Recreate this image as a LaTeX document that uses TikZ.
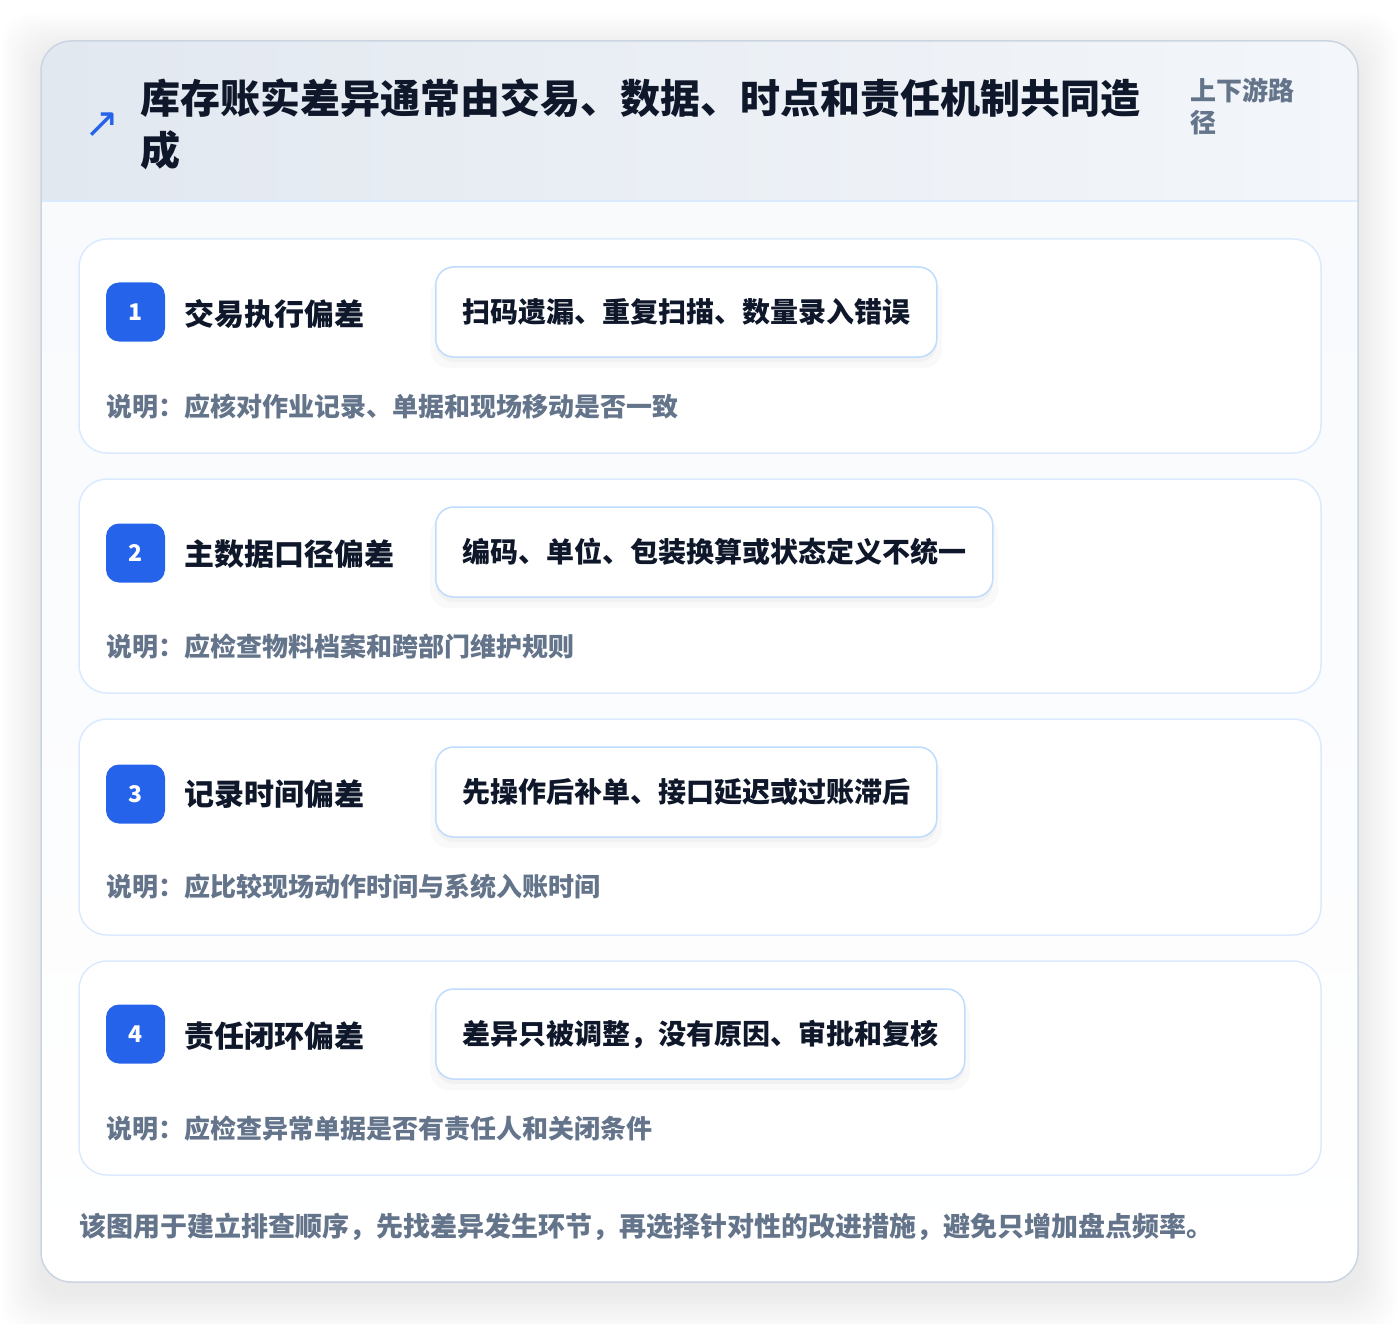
\documentclass[tikz,border=0pt]{standalone}
\usepackage{fontspec}
\setmainfont{Noto Sans CJK SC}
\newfontfamily\iconfont{DejaVu Sans}
\usetikzlibrary{shadows}
\definecolor{accent}{HTML}{2563EB}
\definecolor{ink}{HTML}{0F172A}
\definecolor{muted}{HTML}{64748B}
\definecolor{cardline}{HTML}{DBEAFE}
\definecolor{pillline}{HTML}{BFDBFE}
\definecolor{frame}{HTML}{CBD5E1}
\definecolor{bodytop}{HTML}{F7F9FC}
\definecolor{headL}{HTML}{E2E8F0}
\definecolor{headR}{HTML}{F3F6FA}
\begin{document}
\begin{tikzpicture}[x=1pt,y=-1pt,
	card/.style={draw=cardline,line width=1.5pt,fill=white,rounded corners=28pt},
	badge/.style={fill=accent,rounded corners=13pt,minimum size=59pt,inner sep=0pt,text=white,font=\fontsize{23}{23}\selectfont\bfseries},
	head/.style={anchor=west,inner sep=0pt,text=ink,font=\fontsize{30}{30}\selectfont\bfseries},
	pill/.style={anchor=west,draw=pillline,line width=1.5pt,fill=white,rounded corners=18pt,minimum height=90pt,inner xsep=26.5pt,text=ink,font=\fontsize{28}{28}\selectfont\bfseries,
		drop shadow={shadow xshift=0pt,shadow yshift=-5pt,opacity=0.03,fill=black},
		drop shadow={shadow xshift=0pt,shadow yshift=-10pt,shadow scale=1.02,opacity=0.025,fill=black}},
	note/.style={anchor=west,inner sep=0pt,text=muted,font=\fontsize{26}{26}\selectfont\bfseries},
	closing/.style={anchor=west,inner sep=0pt,text=muted,font=\fontsize{27}{27}\selectfont\bfseries}]
	\useasboundingbox[fill=white] (0,0) rectangle (1400,1324);
	%SHADOW
	\foreach \r in {2,4,...,40}
		\fill[black,opacity=0.0045,rounded corners=30pt] (41-\r,41-\r+12) rectangle (1358+\r,1282+\r+12);
	%FRAME
	\shade[top color=bodytop,bottom color=white,rounded corners=30pt] (41,41) rectangle (1358,1282);
	\begin{scope}
		\clip[rounded corners=30pt] (41,41) rectangle (1358,1282);
		\shade[left color=headL,right color=headR] (41,41) rectangle (1358,201);
	\end{scope}
	\draw[cardline,line width=1.5pt] (41,201) -- (1358,201);
	\draw[frame,line width=1.5pt,rounded corners=30pt] (41,41) rectangle (1358,1282);
	%HEADER
	\node[text=accent,font=\iconfont\fontsize{42}{42}\selectfont,inner sep=0pt] (icon) at (102,125) {↗};
	\node[anchor=west,inner sep=0pt,text=ink,font=\fontsize{40}{40}\selectfont\bfseries] (title) at (140,98) {库存账实差异通常由交易、数据、时点和责任机制共同造};
	\node[anchor=west,inner sep=0pt,text=ink,font=\fontsize{40}{40}\selectfont\bfseries] (titlecont) at (140,150) {成};
	\node[anchor=west,inner sep=0pt,text=muted,font=\fontsize{26}{26}\selectfont\bfseries] (scope) at (1190,90) {上下游路};
	\node[anchor=west,inner sep=0pt,text=muted,font=\fontsize{26}{26}\selectfont\bfseries] (scopecont) at (1190,123) {径};
	%CARD 1
	\draw[card] (79,239) rectangle (1321,453);
	\node[badge] (b1) at (135.5,312) {1};
	\node[head] (h1) at (184,314) {交易执行偏差};
	\node[pill] (p1) at (435,312) {扫码遗漏、重复扫描、数量录入错误};
	\node[note] (n1) at (106,407) {说明：应核对作业记录、单据和现场移动是否一致};
	%CARD 2
	\draw[card] (79,479) rectangle (1321,693);
	\node[badge] (b2) at (135.5,553) {2};
	\node[head] (h2) at (184,554) {主数据口径偏差};
	\node[pill] (p2) at (435,552) {编码、单位、包装换算或状态定义不统一};
	\node[note] (n2) at (106,647) {说明：应检查物料档案和跨部门维护规则};
	%CARD 3
	\draw[card] (79,719) rectangle (1321,935);
	\node[badge] (b3) at (135.5,794) {3};
	\node[head] (h3) at (184,794) {记录时间偏差};
	\node[pill] (p3) at (435,792) {先操作后补单、接口延迟或过账滞后};
	\node[note] (n3) at (106,887) {说明：应比较现场动作时间与系统入账时间};
	%CARD 4
	\draw[card] (79,961) rectangle (1321,1175);
	\node[badge] (b4) at (135.5,1034) {4};
	\node[head] (h4) at (184,1036) {责任闭环偏差};
	\node[pill] (p4) at (435,1034) {差异只被调整，没有原因、审批和复核};
	\node[note] (n4) at (106,1129) {说明：应检查异常单据是否有责任人和关闭条件};
	%FOOTER
	\node[closing] (foot) at (79,1227) {该图用于建立排查顺序，先找差异发生环节，再选择针对性的改进措施，避免只增加盘点频率。};
\end{tikzpicture}
\end{document}
